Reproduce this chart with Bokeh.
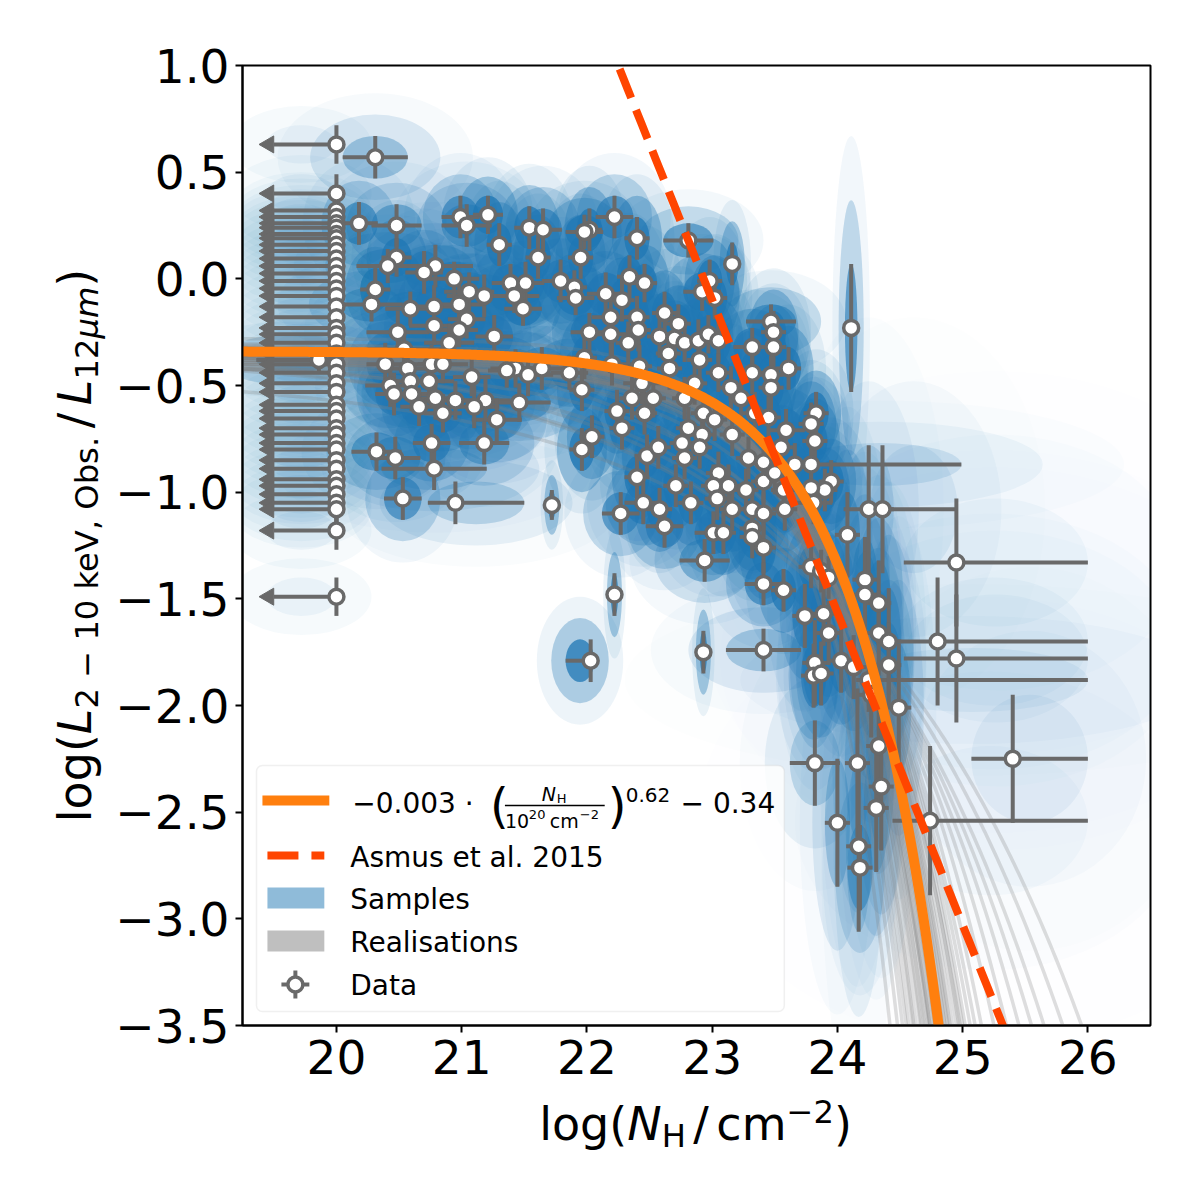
import numpy as np
from bokeh.plotting import figure
from bokeh.layouts import row, column
from bokeh.models import Range1d, FixedTicker, CustomJSTickFormatter, Label, BoxAnnotation
from bokeh.embed import file_html
from bokeh.resources import INLINE

# ---------------- data ----------------
# detections: log NH, log ratio, NH error (low / high), ratio error
nh = [20.31, 20.18, 20.48, 20.99, 21.04, 21.21, 21.30, 21.54, 20.48, 20.41,
      20.79, 20.70, 20.94, 20.31, 20.28, 20.59, 20.78, 21.06, 21.18, 21.39,
      21.51, 21.42, 21.49, 20.98, 21.04, 20.78, 20.98, 20.49, 21.26, 20.90,
      20.54, 19.86, 20.39, 20.57, 20.76, 20.85, 21.08, 21.43, 21.36, 21.53,
      20.43, 20.59, 20.74, 20.46, 20.60, 20.79, 20.95, 21.19, 21.46, 20.66,
      21.10, 20.85, 21.28, 20.32, 20.47, 20.76, 21.18, 20.78, 20.53, 20.95,
      21.65, 22.02, 21.98, 22.22, 22.40, 21.61, 21.95, 22.81, 23.16, 21.79,
      21.90, 22.34, 22.46, 22.98, 21.91, 22.15, 22.28, 22.92, 23.02, 22.62,
      22.19, 22.40, 22.73, 23.47, 23.49, 23.49, 22.02, 22.19, 22.41, 22.58,
      22.70, 22.33, 22.78, 22.89, 22.97, 23.05, 23.32, 23.61, 22.65, 22.90,
      21.64, 21.86, 21.98, 22.20, 22.42, 22.66, 23.05, 23.32, 23.47, 21.96,
      22.44, 23.15, 23.23, 23.47, 22.24, 22.36, 22.46, 22.53, 22.78, 22.86,
      22.93, 23.02, 23.34, 22.04, 22.28, 22.81, 22.92, 23.16, 23.59, 21.96,
      22.48, 22.57, 22.76, 22.40, 22.71, 22.78, 22.90, 23.05, 23.13, 23.01,
      23.27, 23.04, 23.16, 23.32, 23.32, 23.32, 23.29, 23.41, 23.41, 23.57,
      23.58, 23.45, 22.45, 22.58, 22.83, 22.62, 22.27, 23.01, 23.09, 23.41,
      22.94, 21.72, 22.22, 22.03, 22.93, 23.41, 23.57, 23.41,
      24.11, 23.83, 23.79, 23.82, 23.55, 23.66, 23.79, 23.50, 23.95, 23.90,
      23.79, 24.25, 24.36, 23.41, 23.81, 24.08, 24.95, 23.79, 23.87, 23.93,
      23.74, 23.89, 23.93, 23.82, 23.81, 24.22, 24.22, 24.33, 24.33, 24.41,
      24.41, 24.80, 24.95, 24.03, 24.13, 24.25, 24.27, 23.87, 24.49, 24.33,
      23.82, 24.16, 24.35, 24.31, 24.00, 24.74, 24.17, 24.18, 25.40]
ratio = [0.57, 0.26, 0.25, 0.29, 0.25, 0.30, 0.16, 0.24, 0.10, 0.06,
         0.06, 0.03, 0.00, -0.05, -0.12, -0.14, -0.13, -0.06, -0.08, -0.02,
         -0.02, -0.08, -0.14, -0.12, -0.19, -0.22, -0.24, -0.25, -0.27, -0.30,
         -0.33, -0.38, -0.40, -0.42, -0.40, -0.40, -0.46, -0.42, -0.43, -0.45,
         -0.50, -0.48, -0.48, -0.54, -0.54, -0.56, -0.57, -0.57, -0.58, -0.60,
         -0.60, -0.63, -0.66, -0.81, -0.84, -0.77, -0.77, -0.89, -1.03, -1.05,
         0.23, 0.23, 0.22, 0.29, 0.19, 0.10, 0.10, 0.18, 0.07, -0.01,
         -0.04, 0.01, -0.02, -0.01, -0.09, -0.07, -0.10, -0.06, -0.09, -0.16,
         -0.18, -0.18, -0.21, -0.20, -0.25, -0.32, -0.25, -0.26, -0.24, -0.27,
         -0.28, -0.30, -0.30, -0.29, -0.26, -0.29, -0.32, -0.42, -0.35, -0.38,
         -0.42, -0.44, -0.37, -0.40, -0.41, -0.42, -0.44, -0.44, -0.45, -0.52,
         -0.49, -0.51, -0.56, -0.51, -0.62, -0.56, -0.63, -0.56, -0.56, -0.49,
         -0.63, -0.66, -0.63, -0.74, -0.70, -0.70, -0.73, -0.73, -0.71, -0.80,
         -0.83, -0.79, -0.77, -0.93, -0.97, -0.84, -0.79, -0.91, -0.97, -0.97,
         -0.99, -1.03, -1.08, -1.08, -1.17, -1.21, -0.84, -0.86, -0.95, -0.99,
         -1.08, -0.65, -1.05, -1.08, -1.05, -1.16, -1.10, -1.19, -1.19, -1.26,
         -1.32, -1.06, -1.48, -1.79, -1.75, -1.43, -1.46, -1.74,
         -0.23, -0.63, -0.68, -0.76, -0.79, -0.87, -0.87, -0.91, -0.95, -0.99,
         -0.98, -1.08, -1.08, -1.10, -1.05, -1.20, -1.33, -1.35, -1.37, -1.40,
         -1.58, -1.57, -1.66, -1.80, -1.86, -1.41, -1.48, -1.52, -1.66, -1.70,
         -1.81, -1.70, -1.78, -1.79, -1.82, -1.88, -1.95, -1.85, -2.01, -2.19,
         -2.27, -2.27, -2.38, -2.48, -2.55, -2.54, -2.66, -2.76, -2.25]
nh_err_lo = [0.26, 0.15, 0.20, 0.15, 0.20, 0.12, 0.10, 0.12, 0.12, 0.25,
             0.30, 0.15, 0.20, 0.12, 0.25, 0.20, 0.15, 0.20, 0.30, 0.15,
             0.15, 0.20, 0.15, 0.20, 0.15, 0.20, 0.15, 0.25, 0.15, 0.20,
             0.30, 0.50, 0.15, 0.20, 0.15, 0.20, 0.15, 0.20, 0.15, 0.20,
             0.20, 0.15, 0.20, 0.15, 0.20, 0.20, 0.25, 0.20, 0.25, 0.15,
             0.20, 0.15, 0.20, 0.20, 0.20, 0.15, 0.20, 0.42, 0.15, 0.22,
             0.15, 0.10, 0.15, 0.15, 0.10, 0.10, 0.10, 0.20, 0.05, 0.15,
             0.10, 0.10, 0.10, 0.10, 0.15, 0.15, 0.10, 0.15, 0.10, 0.10,
             0.15, 0.10, 0.10, 0.20, 0.10, 0.10, 0.15, 0.15, 0.10, 0.10,
             0.10, 0.10, 0.10, 0.10, 0.10, 0.10, 0.15, 0.10, 0.10, 0.10,
             0.20, 0.15, 0.10, 0.15, 0.10, 0.10, 0.10, 0.10, 0.10, 0.10,
             0.15, 0.10, 0.10, 0.10, 0.10, 0.10, 0.10, 0.10, 0.10, 0.10,
             0.10, 0.10, 0.10, 0.10, 0.10, 0.10, 0.10, 0.10, 0.15, 0.10,
             0.10, 0.10, 0.10, 0.10, 0.10, 0.10, 0.10, 0.10, 0.10, 0.10,
             0.10, 0.10, 0.10, 0.10, 0.10, 0.10, 0.10, 0.10, 0.10, 0.10,
             0.10, 0.10, 0.15, 0.10, 0.10, 0.15, 0.15, 0.15, 0.10, 0.10,
             0.20, 0.03, 0.03, 0.20, 0.03, 0.15, 0.10, 0.30,
             0.05, 0.10, 0.10, 0.10, 0.10, 0.10, 0.10, 0.10, 0.10, 0.10,
             0.10, 0.20, 0.10, 0.10, 0.15, 0.10, 0.42, 0.10, 0.10, 0.10,
             0.10, 0.10, 0.10, 0.10, 0.10, 0.10, 0.10, 0.10, 0.10, 0.10,
             0.10, 0.32, 0.42, 0.10, 0.10, 0.10, 0.10, 0.10, 0.10, 0.10,
             0.20, 0.10, 0.10, 0.10, 0.10, 0.30, 0.10, 0.10, 0.33]
nh_err_hi = [0.26, 0.15, 0.20, 0.15, 0.20, 0.12, 0.10, 0.12, 0.12, 0.25,
             0.30, 0.15, 0.20, 0.12, 0.25, 0.20, 0.15, 0.20, 0.30, 0.15,
             0.15, 0.20, 0.15, 0.20, 0.15, 0.20, 0.15, 0.25, 0.15, 0.20,
             0.30, 0.10, 0.15, 0.20, 0.15, 0.20, 0.15, 0.20, 0.15, 0.20,
             0.20, 0.15, 0.20, 0.15, 0.20, 0.20, 0.25, 0.20, 0.25, 0.15,
             0.20, 0.15, 0.20, 0.20, 0.20, 0.15, 0.20, 0.42, 0.15, 0.55,
             0.15, 0.10, 0.15, 0.15, 0.10, 0.10, 0.10, 0.20, 0.05, 0.15,
             0.10, 0.10, 0.10, 0.10, 0.15, 0.15, 0.10, 0.15, 0.10, 0.10,
             0.15, 0.10, 0.10, 0.20, 0.10, 0.10, 0.15, 0.15, 0.10, 0.10,
             0.10, 0.10, 0.10, 0.10, 0.10, 0.10, 0.15, 0.10, 0.10, 0.10,
             0.20, 0.15, 0.10, 0.15, 0.10, 0.10, 0.10, 0.10, 0.10, 0.10,
             0.15, 0.10, 0.10, 0.10, 0.10, 0.10, 0.10, 0.10, 0.10, 0.10,
             0.10, 0.10, 0.10, 0.10, 0.10, 0.10, 0.10, 0.10, 0.15, 0.10,
             0.10, 0.10, 0.10, 0.10, 0.10, 0.10, 0.10, 0.10, 0.10, 0.10,
             0.10, 0.10, 0.10, 0.10, 0.10, 0.10, 0.10, 0.10, 0.10, 0.10,
             0.10, 0.10, 0.15, 0.10, 0.10, 0.15, 0.15, 0.15, 0.10, 0.10,
             0.20, 0.03, 0.03, 0.03, 0.03, 0.15, 0.10, 0.30,
             0.05, 0.10, 0.10, 0.10, 0.10, 0.10, 1.20, 0.10, 0.10, 0.10,
             0.10, 0.20, 0.60, 0.10, 0.15, 0.10, 1.05, 0.10, 0.10, 0.10,
             0.10, 0.10, 0.10, 0.10, 0.10, 0.10, 0.10, 0.10, 0.10, 0.10,
             0.10, 1.20, 1.05, 0.10, 0.10, 1.75, 0.10, 0.10, 0.10, 0.10,
             0.20, 0.10, 0.10, 0.10, 0.10, 1.26, 0.10, 0.10, 0.60]
ratio_err = [0.10, 0.10, 0.10, 0.10, 0.10, 0.09, 0.10, 0.10, 0.09, 0.08,
             0.10, 0.10, 0.08, 0.10, 0.08, 0.08, 0.10, 0.09, 0.10, 0.09,
             0.10, 0.08, 0.08, 0.10, 0.09, 0.09, 0.08, 0.10, 0.10, 0.09,
             0.10, 0.06, 0.10, 0.10, 0.09, 0.09, 0.09, 0.09, 0.08, 0.10,
             0.10, 0.09, 0.10, 0.10, 0.08, 0.10, 0.09, 0.10, 0.09, 0.09,
             0.10, 0.09, 0.10, 0.09, 0.10, 0.09, 0.10, 0.10, 0.10, 0.10,
             0.10, 0.10, 0.08, 0.10, 0.10, 0.10, 0.10, 0.08, 0.10, 0.10,
             0.08, 0.10, 0.09, 0.10, 0.08, 0.10, 0.10, 0.09, 0.10, 0.10,
             0.10, 0.10, 0.09, 0.08, 0.10, 0.10, 0.09, 0.10, 0.10, 0.10,
             0.09, 0.10, 0.09, 0.10, 0.09, 0.10, 0.09, 0.10, 0.10, 0.09,
             0.10, 0.08, 0.10, 0.10, 0.10, 0.10, 0.09, 0.10, 0.09, 0.10,
             0.10, 0.10, 0.09, 0.10, 0.10, 0.10, 0.10, 0.09, 0.10, 0.10,
             0.10, 0.10, 0.10, 0.10, 0.10, 0.10, 0.09, 0.10, 0.10, 0.10,
             0.10, 0.10, 0.10, 0.10, 0.10, 0.10, 0.10, 0.10, 0.10, 0.10,
             0.10, 0.10, 0.10, 0.10, 0.10, 0.10, 0.10, 0.10, 0.10, 0.10,
             0.10, 0.10, 0.10, 0.10, 0.10, 0.10, 0.10, 0.10, 0.10, 0.12,
             0.10, 0.07, 0.10, 0.10, 0.10, 0.10, 0.10, 0.10,
             0.30, 0.10, 0.10, 0.10, 0.10, 0.10, 0.10, 0.10, 0.10, 0.10,
             0.10, 0.30, 0.30, 0.10, 0.10, 0.20, 0.30, 0.10, 0.10, 0.10,
             0.15, 0.15, 0.15, 0.20, 0.15, 0.20, 0.20, 0.20, 0.20, 0.25,
             0.20, 0.30, 0.30, 0.15, 0.15, 0.15, 0.20, 0.15, 0.30, 0.30,
             0.20, 0.35, 0.30, 0.30, 0.30, 0.35, 0.40, 0.20, 0.30]

# upper limits on NH (plotted at log NH = 20 with leftward arrows)
nh_limit = 20.0
limit_arrow_len = 0.5
limit_ratio = [0.63, 0.40, 0.32, 0.29, 0.26, 0.24, 0.21, 0.19, 0.16, 0.13,
               0.095, 0.06, 0.025, -0.01, -0.045, -0.08, -0.13, -0.18, -0.23, -0.26,
               -0.30, -0.35, -0.40, -0.44, -0.49, -0.53, -0.59, -0.62, -0.655, -0.70,
               -0.73, -0.77, -0.80, -0.85, -0.89, -0.94, -0.97, -1.01, -1.05, -1.08,
               -1.18, -1.49]
limit_ratio_err = 0.09
limit_sample_center = 19.72
limit_sample_halfwidth = 0.28

# best fit: y = -a * (NH / 1e20)^b + c
fit_a, fit_b, fit_c = 0.0033, 0.62, -0.34
# Asmus et al. 2015 line: y = asmus_intercept + asmus_slope * log NH
asmus_slope = -1.465
asmus_intercept = 33.596

# posterior realisations, read from the grey fan: where each one crosses
# y = -2.5 and y = -3.5, and its low-NH plateau
real_x_m25 = [24.50, 24.55, 24.45, 24.60, 24.40, 24.65, 24.35, 24.58, 24.48, 24.52,
              24.42, 24.62, 24.30, 24.68, 24.25, 24.70, 24.56, 24.44, 24.38, 24.64,
              24.20, 24.75, 24.80, 24.85, 24.90, 24.95, 25.00, 25.10, 25.20, 24.72,
              24.47, 24.53, 24.57, 24.43, 24.36, 24.61, 24.49, 24.33, 24.66, 24.46,
              24.28, 24.54, 24.40, 24.59, 24.51]
real_x_m35 = [24.78, 24.83, 24.72, 24.90, 24.66, 24.97, 24.60, 24.88, 24.76, 24.82,
              24.70, 24.95, 24.55, 25.02, 24.48, 25.06, 24.86, 24.74, 24.63, 24.98,
              24.42, 25.15, 25.25, 25.35, 25.45, 25.55, 25.65, 25.80, 25.95, 25.10,
              24.74, 24.81, 24.86, 24.69, 24.61, 24.92, 24.77, 24.57, 25.00, 24.73,
              24.52, 24.84, 24.67, 24.89, 24.80]
real_c = [-0.34, -0.36, -0.33, -0.38, -0.31, -0.35, -0.37, -0.33, -0.36, -0.34,
          -0.40, -0.30, -0.35, -0.42, -0.28, -0.36, -0.34, -0.32, -0.39, -0.35,
          -0.33, -0.37, -0.41, -0.29, -0.38, -0.35, -0.36, -0.33, -0.44, -0.31,
          -0.35, -0.37, -0.39, -0.36, -0.38, -0.40, -0.41, -0.37, -0.39, -0.42,
          -0.36, -0.38, -0.35, -0.37, -0.40]

x_ticks = [20, 21, 22, 23, 24, 25, 26]
y_ticks = [-3.5, -3.0, -2.5, -2.0, -1.5, -1.0, -0.5, 0.0, 0.5, 1.0]

legend_labels = ["Asmus et al. 2015", "Samples", "Realisations", "Data"]

# ---------------- styling / layout ----------------
BLUE = "#1f77b4"
ORANGE = "#ff7f0e"
RED = "#ff4500"
GREY = "#696969"
FONT = "DejaVu Sans"
BASE_FIX = 0.30      # Bokeh puts the alphabetic baseline this many em below the anchor

X_RANGE = (19.25, 26.5)
Y_RANGE = (-3.5, 1.0)
TOTAL = 1184
WL = 112          # strip holding the y-axis title
HB = 90           # strip holding the x-axis title
WM, HM = TOTAL - WL, TOTAL - HB
BL, BR, BT = 240 - WL, 34, 65
BB = HM - BT - 960
FW = WM - BL - BR
FH = HM - BT - BB
SX = (X_RANGE[1] - X_RANGE[0]) / FW
SY = (Y_RANGE[1] - Y_RANGE[0]) / FH
FRAME_LEFT = WL + BL          # page pixel of the frame's left edge
FRAME_TOP = BT


def dx(px):
    """page pixel x -> data x"""
    return X_RANGE[0] + (px - FRAME_LEFT) * SX


def dy(py):
    """page pixel y -> data y"""
    return Y_RANGE[1] - (py - FRAME_TOP) * SY


p = figure(width=WM, height=HM, x_range=Range1d(*X_RANGE), y_range=Range1d(*Y_RANGE),
           output_backend="svg", toolbar_location=None,
           min_border_left=BL, min_border_right=BR, min_border_top=BT, min_border_bottom=BB)
p.grid.visible = False
p.background_fill_color = "white"
p.border_fill_color = "white"
p.outline_line_color = "black"
p.outline_line_width = 2

for ax in (p.xaxis[0], p.yaxis[0]):
    ax.axis_line_color = "black"
    ax.axis_line_width = 2
    ax.major_tick_line_color = "black"
    ax.major_tick_line_width = 2
    ax.major_tick_out = 7
    ax.major_tick_in = 0
    ax.minor_tick_out = 0
    ax.minor_tick_in = 0
    ax.major_label_text_font = FONT
    ax.major_label_text_font_size = "47px"
    ax.major_label_text_color = "black"
p.xaxis.ticker = FixedTicker(ticks=x_ticks)
p.yaxis.ticker = FixedTicker(ticks=y_ticks)
p.xaxis.formatter = CustomJSTickFormatter(code="return tick.toFixed(0)")
p.yaxis.formatter = CustomJSTickFormatter(code="return tick.toFixed(1).replace('-', '\u2212')")
p.xaxis.major_label_standoff = 7
p.yaxis.major_label_standoff = 6

nh_a = np.array(nh)
ratio_a = np.array(ratio)
lo_a = np.array(nh_err_lo)
hi_a = np.array(nh_err_hi)
ye_a = np.array(ratio_err)
lim_y = np.array(limit_ratio)

# ---------------- samples (blue clouds) ----------------
# the same number of samples per source: density falls with the error area
xe_mean = (lo_a + hi_a) / 2
density = np.clip(0.20 * 0.10 / (xe_mean * ye_a), 0.02, 2.0)
for k, a in zip([3.0, 2.0, 1.0], [0.045, 0.18, 0.45]):
    p.ellipse(x=nh_a + (hi_a - lo_a) / 2, y=ratio_a, width=(lo_a + hi_a) * k,
              height=2 * ye_a * k, fill_color=BLUE, fill_alpha=np.clip(a * density, 0.004, 0.75),
              line_color=None)
for k, a in zip([2.0, 1.0], [0.04, 0.06]):
    p.ellipse(x=np.full(len(lim_y), limit_sample_center), y=lim_y,
              width=np.full(len(lim_y), 2 * limit_sample_halfwidth * k),
              height=np.full(len(lim_y), 2 * limit_ratio_err * k),
              fill_color=BLUE, fill_alpha=a, line_color=None)

# ---------------- realisations ----------------
xs = np.linspace(X_RANGE[0], X_RANGE[1], 600)
x25 = np.array(real_x_m25)
x35 = np.array(real_x_m35)
cc = np.array(real_c)
real_b = (np.log10(3.5 + cc) - np.log10(2.5 + cc)) / (x35 - x25)
real_loga = np.log10(2.5 + cc) - real_b * (x25 - 20)
real_ys = [-(10 ** (la + b * (xs - 20))) + c for la, b, c in zip(real_loga, real_b, cc)]
p.multi_line(xs=[xs] * len(real_ys), ys=real_ys, line_color="#808080", line_alpha=0.26, line_width=3.5)

# ---------------- data ----------------
p.segment(x0=nh_a - lo_a, y0=ratio_a, x1=nh_a + hi_a, y1=ratio_a, line_color=GREY, line_width=4)
p.segment(x0=nh_a, y0=ratio_a - ye_a, x1=nh_a, y1=ratio_a + ye_a, line_color=GREY, line_width=4)
lim_x = np.full(len(lim_y), nh_limit)
p.segment(x0=lim_x, y0=lim_y, x1=lim_x - limit_arrow_len, y1=lim_y, line_color=GREY, line_width=4)
p.segment(x0=lim_x, y0=lim_y - limit_ratio_err, x1=lim_x, y1=lim_y + limit_ratio_err,
          line_color=GREY, line_width=4)
p.scatter(x=lim_x - limit_arrow_len - 5 * SX, y=lim_y, marker="triangle", angle=np.pi / 2,
          size=17, fill_color=GREY, line_color=GREY, line_width=1)
p.scatter(x=np.concatenate([nh_a, lim_x]), y=np.concatenate([ratio_a, lim_y]), marker="circle",
          size=15, fill_color="white", line_color=GREY, line_width=3.5)

# ---------------- fit and literature relation ----------------
fit_y = -fit_a * (10 ** (xs - 20)) ** fit_b + fit_c
p.line(xs, fit_y, line_color=ORANGE, line_width=10)
xa = np.linspace(22.0, 25.6, 100)
p.line(xa, asmus_intercept + asmus_slope * xa, line_color=RED, line_width=8, line_dash="31 13")

# ---------------- legend (manual, to allow the fraction) ----------------
box = BoxAnnotation(left=dx(254), right=dx(783), top=dy(765), bottom=dy(1011),
                    fill_color="white", fill_alpha=0.8, line_color="#cccccc", line_width=1.5,
                    border_radius=6, level="annotation")
p.add_layout(box)
hx0, hx1 = dx(265), dx(322)
p.line([hx0, hx1], [dy(800), dy(800)], line_color=ORANGE, line_width=10, line_cap="square", level="overlay")
p.line([hx0, hx1], [dy(855), dy(855)], line_color=RED, line_width=8, line_dash="31 13", level="overlay")
p.quad(left=hx0, right=hx1, top=dy(887), bottom=dy(908), fill_color=BLUE, fill_alpha=0.5,
       line_color=None, level="overlay")
p.quad(left=hx0, right=hx1, top=dy(930), bottom=dy(951), fill_color="#808080", fill_alpha=0.5,
       line_color=None, level="overlay")
mx, my = dx(293), dy(984)
p.segment(x0=[mx - 14 * SX, mx], y0=[my, my - 14 * SY], x1=[mx + 14 * SX, mx], y1=[my, my + 14 * SY],
          line_color=GREY, line_width=4, level="overlay")
p.scatter(x=[mx], y=[my], marker="circle", size=15, fill_color="white", line_color=GREY,
          line_width=3.5, level="overlay")


def add_text(fig, text, x, y, size, style="normal", angle=0.0):
    fig.add_layout(Label(x=x, y=y, text=text, text_font=FONT, text_font_size=f"{size}px",
                         text_font_style=style, text_color="black", text_baseline="alphabetic",
                         text_align="left", angle=angle, level="overlay"))


def legend_text(text, px, py, size, style="normal"):
    add_text(p, text, dx(px), dy(py - BASE_FIX * size), size, style)


for lab, base in zip(legend_labels, [865, 907, 950, 993]):
    legend_text(lab, 348, base, 28)

# formula label: -0.003 * (N_H / 10^20 cm^-2)^0.62 - 0.34
legend_text("\u22120.003 \u00b7", 350, 811, 28)
legend_text("(", 488, 820, 48)
p.segment(x0=[dx(503)], y0=[dy(805)], x1=[dx(603)], y1=[dy(805)], line_color="black",
          line_width=1.5, level="overlay")
legend_text("N", 540, 799, 19, "italic")
legend_text("H", 555, 802, 13)
legend_text("10", 503, 826, 19)
legend_text("20", 527, 818, 13)
legend_text("cm", 548, 826, 19)
legend_text("\u22122", 578, 818, 13)
legend_text(")", 606, 820, 48)
legend_text("0.62", 624, 800, 20)
legend_text("\u2212 0.34", 679, 811, 28)

# ---------------- axis titles (composed, with sub/superscripts) ----------------
CW = {'l': 0.278, 'o': 0.612, 'g': 0.635, '(': 0.390, ')': 0.390, 'N': 0.748, 'H': 0.752,
      '/': 0.337, 'c': 0.550, 'm': 0.974, '\u2212': 0.838, 'L': 0.557, ' ': 0.318, 'k': 0.579,
      'e': 0.615, 'V': 0.684, ',': 0.318, 'O': 0.787, 'b': 0.635, 's': 0.521, '.': 0.318,
      '\u03bc': 0.636}


def text_w(t, size):
    return sum(CW.get(ch, 0.636) for ch in t) * size


S = 46
SUB = 0.7 * S
x_pieces = [("log(", S, "normal", 0), ("N", S, "italic", 0), ("H", SUB, "normal", -8),
            (None, 7.5, None, 0), ("/", S, "normal", 0), (None, 7.5, None, 0),
            ("cm", S, "normal", 0), ("\u22122", SUB, "normal", 16), (")", S, "normal", 0)]
y_pieces = [("log(", S, "normal", 0), ("L", S, "italic", 0),
            ("2 \u2212 10 keV, Obs.", SUB, "normal", -8), (None, 7.5, None, 0),
            ("/", S, "normal", 0), (None, 7.5, None, 0), ("L", S, "italic", 0),
            ("12", SUB, "normal", -8), ("\u03bcm", SUB, "italic", -8), (")", S, "normal", 0)]


def piece_w(pc):
    return pc[1] if pc[0] is None else text_w(pc[0], pc[1])


def strip(width, height, y_range):
    f = figure(width=width, height=height, x_range=Range1d(0, width), y_range=y_range,
               output_backend="svg", toolbar_location=None, min_border=0,
               x_axis_location=None, y_axis_location=None)
    f.grid.visible = False
    f.outline_line_color = None
    f.background_fill_color = "white"
    f.border_fill_color = "white"
    return f


# the y-title strip sits in a row with the plot, so its frame is aligned with the
# plot's frame: share the plot's y range and place texts with dy()
ylab = strip(WL, HM, p.y_range)
xlab = strip(TOTAL, HB, Range1d(0, HB))

frame_cx = FRAME_LEFT + FW / 2
frame_cy = FRAME_TOP + FH / 2

X_BASE = 1137      # page y of the x-title baseline
Y_BASE = 88        # page x of the y-title baseline
total = sum(piece_w(pc) for pc in x_pieces)
cur = frame_cx - total / 2
for pc in x_pieces:
    if pc[0] is not None:
        page_y = X_BASE - pc[3] - BASE_FIX * pc[1]
        add_text(xlab, pc[0], cur, HM + HB - page_y, pc[1], pc[2])
    cur += piece_w(pc)

total = sum(piece_w(pc) for pc in y_pieces)
cur = frame_cy + total / 2
for pc in y_pieces:
    if pc[0] is not None:
        page_x = Y_BASE - pc[3] - BASE_FIX * pc[1]
        add_text(ylab, pc[0], page_x, dy(cur), pc[1], pc[2], angle=np.pi / 2)
    cur -= piece_w(pc)

layout = column(row(ylab, p, spacing=0), xlab, spacing=0)
open("out.html", "w").write(file_html(layout, INLINE))
